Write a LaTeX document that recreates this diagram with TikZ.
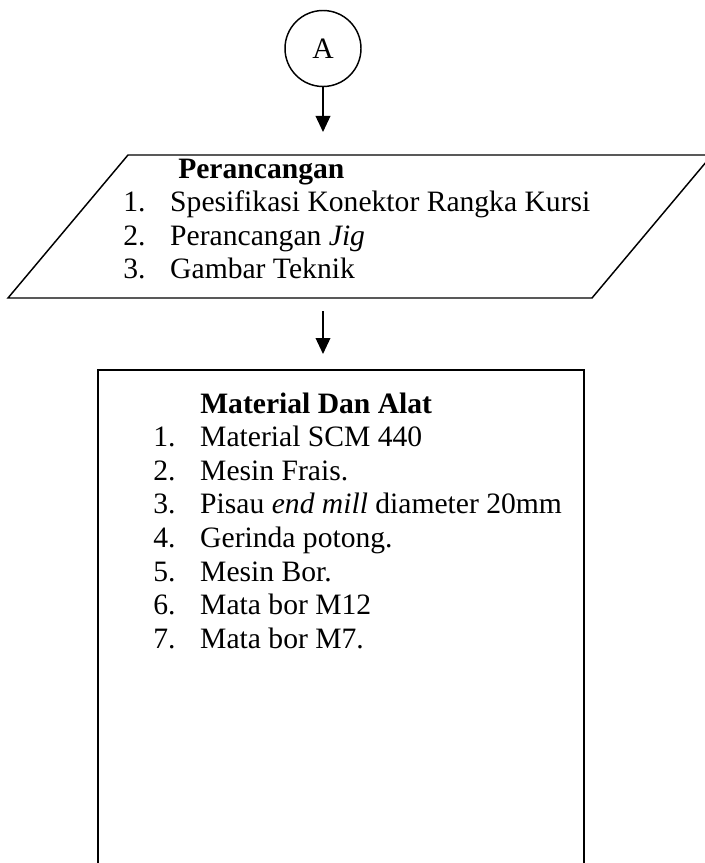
\documentclass[tikz,border=0pt]{standalone}
\usepackage{fontspec}
\setmainfont{Liberation Serif}
\usetikzlibrary{arrows.meta}

\begin{document}
\begin{tikzpicture}[x=0.75pt,y=-0.75pt,
  every node/.style={font=\fontsize{22.2pt}{25pt}\selectfont},
  garis/.style={line width=1.1pt},
  panah/.style={->,>={Triangle[length=12pt,width=11pt]},line width=1.1pt},
  baris/.style={anchor=base west,inner sep=0pt}]
\useasboundingbox (0,0) rectangle (704,863);

\node[circle,draw,line width=1.1pt,minimum size=57pt,inner sep=0pt] (conA) at (323,48.5) {A};

\coordinate (tip1) at (323,132);
\coordinate (out2) at (323,311);
\coordinate (tip2) at (323,354);

\path[panah] (conA.south) edge [] node[]{} (tip1);
\path[panah] (out2) edge [] node[]{} (tip2);

\draw[garis] (128,155) -- (712,155) -- (592,298) -- (8,298) -- cycle;

\node[baris] (p0) at (178,178) {\textbf{Perancangan}};
\node[baris] (p1) at (123,211.5) {\makebox[35.25pt][l]{1.}Spesifikasi Konektor Rangka Kursi};
\node[baris] (p2) at (123,245) {\makebox[35.25pt][l]{2.}Perancangan \textit{Jig}};
\node[baris] (p3) at (123,278.5) {\makebox[35.25pt][l]{3.}Gambar Teknik};

\draw[garis] (98,900) -- (98,370) -- (584,370) -- (584,900);

\node[baris] (m0) at (200,413) {\textbf{Material Dan Alat}};
\node[baris] (m1) at (153,446.6) {\makebox[35.25pt][l]{1.}Material SCM 440};
\node[baris] (m2) at (153,480.2) {\makebox[35.25pt][l]{2.}Mesin Frais.};
\node[baris] (m3) at (153,513.8) {\makebox[35.25pt][l]{3.}Pisau \textit{end mill} diameter 20mm};
\node[baris] (m4) at (153,547.4) {\makebox[35.25pt][l]{4.}Gerinda potong.};
\node[baris] (m5) at (153,581) {\makebox[35.25pt][l]{5.}Mesin Bor.};
\node[baris] (m6) at (153,614.6) {\makebox[35.25pt][l]{6.}Mata bor M12};
\node[baris] (m7) at (153,648.2) {\makebox[35.25pt][l]{7.}Mata bor M7.};

\end{tikzpicture}
\end{document}
